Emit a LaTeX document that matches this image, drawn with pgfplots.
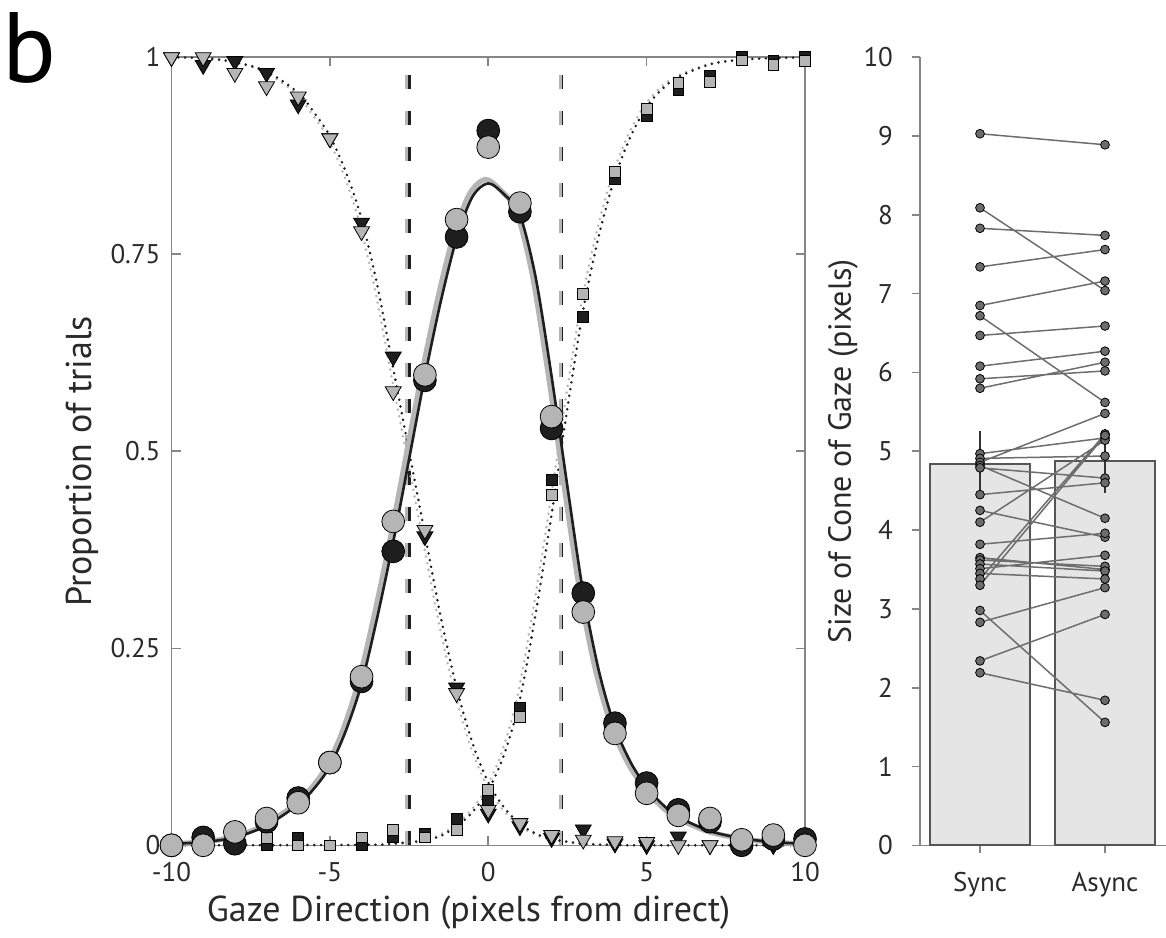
\documentclass[border=0pt]{standalone}
\usepackage{pgfplots}
\usepackage{pgfplotstable}
\pgfplotsset{compat=1.18}
\usepackage{fontspec}
\setmainfont{PT Sans}
\definecolor{blk}{HTML}{1E1E1E}
\definecolor{gry}{HTML}{B5B5B5}
\definecolor{axgray}{HTML}{858585}
\definecolor{txt}{HTML}{2A2A2A}
\definecolor{barfill}{HTML}{E5E5E5}
\definecolor{baredge}{HTML}{555555}
\definecolor{dotfill}{HTML}{6C6C6C}
\definecolor{pairline}{HTML}{6E6E6E}

\pgfplotstableread{
x y
-10 0.002
-9 0.004
-8 0.010
-7 0.025
-6 0.052
-5.5 0.072
-5 0.100
-4.5 0.145
-4 0.205
-3.5 0.290
-3 0.385
-2.5 0.490
-2 0.595
-1.5 0.690
-1 0.770
-0.5 0.823
0 0.840
0.5 0.826
1 0.800
1.5 0.720
2 0.595
2.5 0.455
3 0.320
3.5 0.220
4 0.150
4.5 0.105
5 0.074
5.5 0.052
6 0.036
7 0.018
8 0.009
9 0.004
10 0.002
}\centerblack

\pgfplotstableread{
x y
-10 0.002
-9.1 0.004
-8.1 0.010
-7.1 0.025
-6.1 0.052
-5.6 0.072
-5.1 0.100
-4.6 0.145
-4.1 0.207
-3.6 0.292
-3.1 0.388
-2.6 0.493
-2.1 0.598
-1.6 0.693
-1.1 0.773
-0.6 0.826
-0.1 0.845
0.4 0.831
0.9 0.803
1.4 0.722
1.9 0.596
2.4 0.455
2.9 0.320
3.4 0.220
3.9 0.150
4.4 0.105
4.9 0.074
5.4 0.052
5.9 0.036
6.9 0.018
7.9 0.009
8.9 0.004
10 0.002
}\centergray

\pgfplotstableread{
x y
-10 1.000
-9 0.999
-8 0.994
-7 0.982
-6 0.955
-5.5 0.930
-5 0.900
-4.5 0.855
-4 0.795
-3.5 0.710
-3 0.605
-2.5 0.500
-2 0.395
-1.5 0.290
-1 0.200
-0.5 0.130
0 0.080
0.5 0.048
1 0.027
1.5 0.015
2 0.008
3 0.002
4 0.0005
5 0.0
10 0.0
}\leftblack

\pgfplotstableread{
x y
-10 1.000
-9.1 0.999
-8.1 0.994
-7.1 0.982
-6.1 0.955
-5.6 0.930
-5.1 0.900
-4.6 0.855
-4.1 0.795
-3.6 0.710
-3.1 0.605
-2.6 0.500
-2.1 0.395
-1.6 0.290
-1.1 0.200
-0.6 0.130
-0.1 0.080
0.4 0.048
0.9 0.027
1.4 0.015
1.9 0.008
2.9 0.002
3.9 0.0005
4.9 0.0
10 0.0
}\leftgray

\pgfplotstableread{
x y
-10 0.0
-4 0.0005
-3 0.002
-2 0.006
-1.5 0.012
-1 0.024
-0.5 0.042
0 0.070
0.5 0.115
1 0.185
1.5 0.295
2 0.420
2.5 0.555
3 0.680
3.5 0.775
4 0.848
4.5 0.900
5 0.937
5.5 0.960
6 0.975
7 0.991
8 0.997
9 0.999
10 1.000
}\rightblack

\pgfplotstableread{
x y
-10 0.0
-4.1 0.0005
-3.1 0.002
-2.1 0.006
-1.6 0.012
-1.1 0.024
-0.6 0.042
-0.1 0.070
0.4 0.115
0.9 0.185
1.4 0.295
1.9 0.420
2.4 0.555
2.9 0.680
3.4 0.775
3.9 0.848
4.4 0.900
4.9 0.937
5.4 0.960
5.9 0.975
6.9 0.991
7.9 0.997
8.9 0.999
10 1.000
}\rightgray

% markers: x, black circle, gray circle, black tri, gray tri, black sq, gray sq
\pgfplotstableread{
x bc gc bt gt bs gs
-10 0.000 0.000 1.000 1.000 0.000 0.000
-9 0.010 0.000 0.990 1.000 0.000 0.000
-8 0.002 0.017 0.995 0.980 0.000 0.000
-7 0.030 0.034 0.980 0.963 0.000 0.009
-6 0.060 0.054 0.940 0.950 0.010 0.000
-5 0.105 0.105 0.897 0.897 0.000 0.000
-4 0.208 0.214 0.790 0.779 0.000 0.010
-3 0.373 0.411 0.620 0.576 0.011 0.020
-2 0.590 0.597 0.392 0.400 0.015 0.010
-1 0.772 0.794 0.200 0.193 0.034 0.020
0 0.907 0.886 0.040 0.045 0.057 0.070
1 0.804 0.815 0.024 0.028 0.174 0.163
2 0.529 0.544 0.009 0.013 0.464 0.445
3 0.320 0.296 0.020 0.007 0.671 0.700
4 0.155 0.142 0.002 0.005 0.846 0.855
5 0.079 0.066 0.000 0.004 0.925 0.935
6 0.045 0.038 0.011 0.000 0.958 0.967
7 0.030 0.034 0.000 0.000 0.976 0.969
8 0.000 0.007 0.000 0.000 1.000 0.996
9 0.008 0.013 0.000 0.003 0.996 0.990
10 0.008 0.000 0.000 0.002 1.000 0.995
}\markers

\pgfplotstableread{
s a
9.03 8.89
8.09 7.04
7.83 7.74
7.34 7.56
6.85 7.16
6.72 5.62
6.47 6.59
6.08 6.27
5.92 6.02
5.80 6.13
4.97 5.17
4.91 4.94
4.86 5.48
4.82 4.15
4.79 4.66
4.45 4.60
4.25 3.91
4.10 5.14
3.82 3.96
3.65 3.50
3.62 3.54
3.57 3.48
3.51 3.68
3.45 3.38
3.38 5.22
3.30 5.20
2.98 1.56
2.83 3.27
2.34 2.93
2.19 1.84
}\pairs

\begin{document}
\begin{tikzpicture}
\useasboundingbox (0pt,0pt) rectangle (583pt,468.5pt);
\node[anchor=base west, inner sep=0pt, font=\fontsize{50}{50}\selectfont] at (1pt,427pt) {b};

\begin{axis}[
  at={(85.75pt,45.85pt)}, anchor=south west,
  scale only axis, width=316.75pt, height=394pt,
  xmin=-10, xmax=10, ymin=0, ymax=1,
  clip=false,
  axis line style={axgray, line width=0.8pt},
  every tick/.style={axgray, line width=0.8pt},
  major tick length=4.5pt,
  tick align=inside,
  xtick={-10,-5,0,5,10}, xticklabels={-10,-5,0,5,10},
  ytick={0,0.25,0.5,0.75,1}, yticklabels={0,0.25,0.5,0.75,1},
  tick label style={font=\fontsize{13.5}{15}\selectfont, text=txt},
  xticklabel style={yshift=-5pt},
  yticklabel style={xshift=-2pt},
  xlabel={Gaze Direction (pixels from direct)},
  ylabel={Proportion of trials},
  label style={font=\fontsize{18}{21}\selectfont, text=txt},
  xlabel style={at={(axis description cs:0.469,-0.085)}, anchor=center},
  ylabel style={at={(axis description cs:-0.1413,0.487)}, anchor=center},
]
% vertical dashed lines
\addplot[blk, line width=1.6pt, dash pattern=on 7pt off 11pt] coordinates {(-2.49,0) (-2.49,1)};
\addplot[gry, line width=1.6pt, dash pattern=on 7pt off 11pt] coordinates {(-2.58,0) (-2.58,1)};
\addplot[blk, line width=1.6pt, dash pattern=on 7pt off 11pt] coordinates {(2.32,0) (2.32,1)};
\addplot[gry, line width=1.6pt, dash pattern=on 7pt off 11pt] coordinates {(2.28,0) (2.28,1)};
% dotted sigmoids
\addplot[gry, smooth, line width=1.4pt, line cap=round, dash pattern=on 0pt off 3.4pt] table[x=x,y=y] {\leftgray};
\addplot[blk, smooth, line width=1.4pt, line cap=round, dash pattern=on 0pt off 3.4pt] table[x=x,y=y] {\leftblack};
\addplot[gry, smooth, line width=1.4pt, line cap=round, dash pattern=on 0pt off 3.4pt] table[x=x,y=y] {\rightgray};
\addplot[blk, smooth, line width=1.4pt, line cap=round, dash pattern=on 0pt off 3.4pt] table[x=x,y=y] {\rightblack};
% centre fits
\addplot[gry, smooth, line width=2.6pt] table[x=x,y=y] {\centergray};
\addplot[blk, smooth, line width=1.3pt] table[x=x,y=y] {\centerblack};
% markers
\addplot[only marks, mark=triangle*, mark size=4.6pt, mark options={rotate=180, fill=blk, draw=none}] table[x=x,y=bt] {\markers};
\addplot[only marks, mark=triangle*, mark size=4.6pt, mark options={rotate=180, fill=gry, draw=none}] table[x=x,y=gt] {\markers};
\addplot[only marks, mark=square*, mark size=2.7pt, mark options={fill=blk, draw=none}] table[x=x,y=bs] {\markers};
\addplot[only marks, mark=square*, mark size=2.7pt, mark options={fill=gry, draw=none}] table[x=x,y=gs] {\markers};
\addplot[only marks, mark=*, mark size=5.7pt, mark options={fill=blk, draw=none}] table[x=x,y=bc] {\markers};
\addplot[only marks, mark=*, mark size=5.7pt, mark options={fill=gry, draw=none}] table[x=x,y=gc] {\markers};
\end{axis}

\begin{axis}[
  at={(460pt,45.85pt)}, anchor=south west,
  scale only axis, width=123.75pt, height=394pt,
  xmin=0.52, xmax=2.5, ymin=0, ymax=10,
  axis x line=bottom, axis y line=left,
  axis line style={-, axgray, line width=0.8pt},
  every tick/.style={axgray, line width=0.8pt},
  major tick length=4pt,
  tick align=outside,
  xtick={1,2}, xticklabels={Sync,Async},
  ytick={0,1,2,3,4,5,6,7,8,9,10}, yticklabels={0,1,2,3,4,5,6,7,8,9,10},
  tick label style={font=\fontsize{13.5}{15}\selectfont, text=txt},
  xticklabel style={yshift=-6pt},
  yticklabel style={xshift=-6pt},
  ylabel={Size of Cone of Gaze (pixels)},
  label style={font=\fontsize{16}{19}\selectfont, text=txt},
  ylabel style={at={(axis description cs:-0.311,0.5)}, anchor=center},
]
\addplot[ybar, bar width=0.8, fill=barfill, draw=baredge, line width=1pt,
  error bars/.cd, y dir=both, y explicit,
  error bar style={color=black!80, line width=1pt},
  error mark options={mark size=3.3pt, line width=1pt, color=black!80}]
  coordinates {(1,4.845) +- (0,0.325) (2,4.88) +- (0,0.32)};
\addplot[pairline, line width=0.75pt, mark=none, unbounded coords=jump] coordinates {
(1,9.03) (2,8.89) (1.5,nan)
(1,8.09) (2,7.04) (1.5,nan)
(1,7.83) (2,7.74) (1.5,nan)
(1,7.34) (2,7.56) (1.5,nan)
(1,6.85) (2,7.16) (1.5,nan)
(1,6.72) (2,5.62) (1.5,nan)
(1,6.47) (2,6.59) (1.5,nan)
(1,6.08) (2,6.27) (1.5,nan)
(1,5.92) (2,6.02) (1.5,nan)
(1,5.80) (2,6.13) (1.5,nan)
(1,4.97) (2,5.17) (1.5,nan)
(1,4.91) (2,4.94) (1.5,nan)
(1,4.86) (2,5.48) (1.5,nan)
(1,4.82) (2,4.15) (1.5,nan)
(1,4.79) (2,4.66) (1.5,nan)
(1,4.45) (2,4.60) (1.5,nan)
(1,4.25) (2,3.91) (1.5,nan)
(1,4.10) (2,5.14) (1.5,nan)
(1,3.82) (2,3.96) (1.5,nan)
(1,3.65) (2,3.50) (1.5,nan)
(1,3.62) (2,3.54) (1.5,nan)
(1,3.57) (2,3.48) (1.5,nan)
(1,3.51) (2,3.68) (1.5,nan)
(1,3.45) (2,3.38) (1.5,nan)
(1,3.38) (2,5.22) (1.5,nan)
(1,3.30) (2,5.20) (1.5,nan)
(1,2.98) (2,1.56) (1.5,nan)
(1,2.83) (2,3.27) (1.5,nan)
(1,2.34) (2,2.93) (1.5,nan)
(1,2.19) (2,1.84)
};
\addplot[only marks, mark=*, mark size=2.2pt, mark options={fill=dotfill, draw=none}] table[x expr=1, y=s] {\pairs};
\addplot[only marks, mark=*, mark size=2.2pt, mark options={fill=dotfill, draw=none}] table[x expr=2, y=a] {\pairs};
\end{axis}
\end{tikzpicture}
\end{document}
